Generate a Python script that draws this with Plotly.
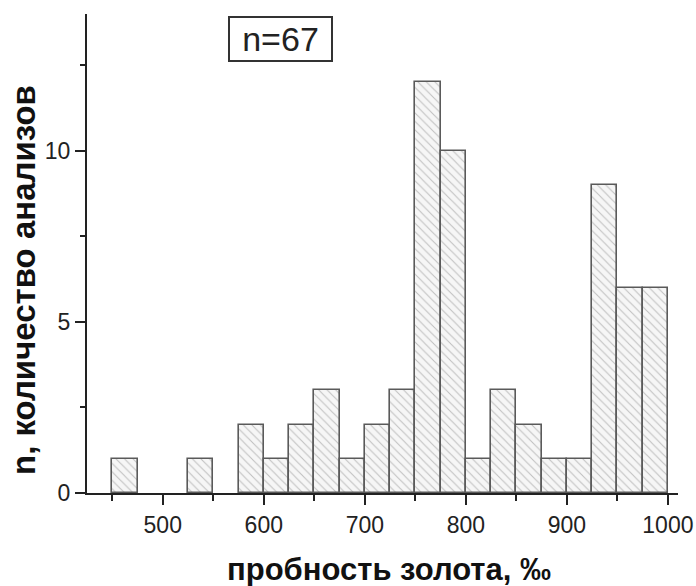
import plotly.graph_objects as go

# Data: histogram of gold fineness (bins of 25 ‰)
bin_left = [450, 475, 500, 525, 550, 575, 600, 625, 650, 675, 700, 725,
            750, 775, 800, 825, 850, 875, 900, 925, 950, 975]
counts   = [1, 0, 0, 1, 0, 2, 1, 2, 3, 1, 2, 3,
            12, 10, 1, 3, 2, 1, 1, 9, 6, 6]
bin_width = 25
x_ticks = [500, 600, 700, 800, 900, 1000]
y_ticks = [0, 5, 10]
n_label = "n=67"
x_title = "пробность золота, ‰"
y_title = "n, количество анализов"

W, H = 696, 586
L, R, T, B = 87, 18, 14, 93

# empty bins are not drawn
bar_y = [c if c > 0 else None for c in counts]

fig = go.Figure()
fig.add_trace(go.Bar(
    x=bin_left, y=bar_y, width=bin_width, offset=0,
    marker=dict(
        color="#f6f6f6",
        line=dict(color="#5a5a5a", width=1.6),
        pattern=dict(shape="\\", fgcolor="#8c8c8c", bgcolor="#f6f6f6",
                     size=6, solidity=0.18),
    ),
    hoverinfo="skip",
))

axis_col = "#222222"
tick_font = dict(family="Liberation Sans, Arial, sans-serif", size=23, color="#222222")

fig.update_xaxes(
    range=[425, 1010], tickvals=x_ticks, ticks="outside", ticklen=10,
    tickwidth=1.8, tickcolor=axis_col, showline=True, linecolor=axis_col,
    linewidth=2, showgrid=False, zeroline=False, tickfont=tick_font,
    automargin=False,
    minor=dict(ticks="outside", ticklen=6, tickwidth=1.5, tickcolor=axis_col,
               tick0=450, dtick=50, showgrid=False),
)
fig.update_yaxes(
    range=[0, 14], tickvals=y_ticks, ticks="outside", ticklen=10,
    tickwidth=1.8, tickcolor=axis_col, showline=True, linecolor=axis_col,
    linewidth=2, showgrid=False, zeroline=False, tickfont=tick_font,
    automargin=False,
    minor=dict(ticks="outside", ticklen=5, tickwidth=1.5, tickcolor=axis_col,
               tick0=0, dtick=2.5, showgrid=False),
)

pw = W - L - R
ph = H - T - B

fig.add_annotation(
    text=n_label, xref="paper", yref="paper",
    x=(280.5 - L) / pw, y=(H - B - 39) / ph, xanchor="center", yanchor="middle",
    showarrow=False, width=101, height=42, borderpad=0,
    bordercolor="#333333", borderwidth=2, bgcolor="white",
    font=dict(family="Liberation Sans, Arial, sans-serif", size=34, color="#222222"),
)
fig.add_annotation(
    text=y_title, xref="paper", yref="paper", textangle=-90,
    x=(23 - L) / pw, y=(H - B - 280) / ph, xanchor="center", yanchor="middle",
    showarrow=False,
    font=dict(family="Liberation Sans, Arial, sans-serif", size=33, color="#111111", weight="bold"),
)
fig.add_annotation(
    text=x_title, xref="paper", yref="paper",
    x=(389 - L) / pw, y=(H - B - 569) / ph, xanchor="center", yanchor="middle",
    showarrow=False,
    font=dict(family="Liberation Sans, Arial, sans-serif", size=31, color="#111111", weight="bold"),
)
# small extension of the x-axis line to the left of the y-axis
fig.add_shape(type="line", xref="paper", yref="paper", x0=-7 / pw, x1=0, y0=0, y1=0,
              line=dict(color=axis_col, width=2))

fig.update_layout(
    width=W, height=H, margin=dict(l=L, r=R, t=T, b=B),
    paper_bgcolor="white", plot_bgcolor="white", showlegend=False,
    bargap=0,
)
fig.write_html("out.html", config={"displayModeBar": False},
               post_script="document.body.style.margin='0';document.body.style.padding='0';")
